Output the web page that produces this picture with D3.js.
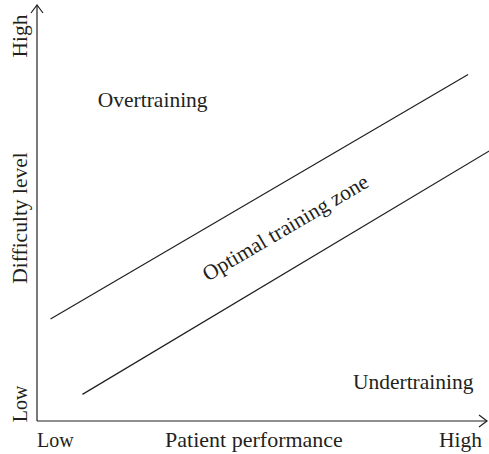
<!DOCTYPE html>
<html>
<head>
<meta charset="utf-8">
<script src="https://cdn.jsdelivr.net/npm/d3@7"></script>
<style>
  body { margin: 0; background: #fff; }
  text { font-family: "Liberation Serif", "Times New Roman", serif; fill: #231f20; }
</style>
</head>
<body>
<div id="graph"></div>
<script>
var WIDTH = 489;
var HEIGHT = 454;
var INK = "#231f20";

// zone boundaries, in axis units (0..100 on both axes)
var upperLine = [{x: 3.0, y: 24.5}, {x: 95.8, y: 83.3}];
var lowerLine = [{x: 10.1, y: 6.4}, {x: 100.5, y: 64.9}];

// tick labels at the ends of each axis
var xTickLabels = ["Low", "High"];
var yTickLabels = ["Low", "High"];
var xTitle = "Patient performance";
var yTitle = "Difficulty level";

// region labels
var regions = [
    {name: "Overtraining", x: 13.5, y: 75.5, angle: 0, anchor: "start"},
    {name: "Undertraining", x: 70.2, y: 7.7, angle: 0, anchor: "start"},
    {name: "Optimal training zone", x: 56.0, y: 45.0, angle: -30.5, anchor: "middle"}
];

var svg = d3.select("#graph").append("svg")
    .attr("width", WIDTH)
    .attr("height", HEIGHT);

var x = d3.scaleLinear().domain([0, 100]).range([37, 487]);
var y = d3.scaleLinear().domain([0, 100]).range([421, 5]);

var line = d3.line()
    .x(function(d) { return x(d.x); })
    .y(function(d) { return y(d.y); });

// Axes with open arrow heads
var axes = svg.append("g").attr("class", "axes")
    .attr("stroke", INK)
    .attr("stroke-width", 1.2)
    .attr("fill", "none");

axes.append("line")
    .attr("x1", x(0)).attr("y1", y(0))
    .attr("x2", x(0)).attr("y2", y(100));
axes.append("path")
    .attr("d", "M" + (x(0) - 6) + "," + (y(100) + 8) + "L" + x(0) + "," + y(100) + "L" + (x(0) + 6) + "," + (y(100) + 8));

axes.append("line")
    .attr("x1", x(0)).attr("y1", y(0))
    .attr("x2", x(100)).attr("y2", y(0));
axes.append("path")
    .attr("d", "M" + (x(100) - 8) + "," + (y(0) - 6) + "L" + x(100) + "," + y(0) + "L" + (x(100) - 8) + "," + (y(0) + 6));

// Zone boundary lines
svg.append("g").attr("class", "zone")
    .selectAll("path")
    .data([upperLine, lowerLine])
    .enter().append("path")
    .attr("d", line)
    .attr("fill", "none")
    .attr("stroke", INK)
    .attr("stroke-width", 1.2);

// x axis labels
svg.append("text")
    .attr("x", x(0)).attr("y", 447)
    .attr("font-size", 20)
    .text(xTickLabels[0]);
svg.append("text")
    .attr("x", 482).attr("y", 447)
    .attr("text-anchor", "end")
    .attr("font-size", 21.5)
    .text(xTickLabels[1]);
svg.append("text")
    .attr("x", 254).attr("y", 447)
    .attr("text-anchor", "middle")
    .attr("font-size", 22)
    .text(xTitle);

// y axis labels (rotated)
function yLabel(txt, cy, size) {
    svg.append("text")
        .attr("transform", "translate(27," + cy + ") rotate(-90)")
        .attr("text-anchor", "middle")
        .attr("font-size", size)
        .text(txt);
}
yLabel(yTickLabels[0], 404, 20);
yLabel(yTickLabels[1], 36, 21.5);
yLabel(yTitle, 218, 21.5);

// Region labels
svg.append("g").attr("class", "regions")
    .selectAll("text")
    .data(regions)
    .enter().append("text")
    .attr("transform", function(d) {
        return "translate(" + x(d.x) + "," + y(d.y) + ") rotate(" + d.angle + ")";
    })
    .attr("text-anchor", function(d) { return d.anchor; })
    .attr("font-size", 21.5)
    .text(function(d) { return d.name; });
</script>
</body>
</html>
